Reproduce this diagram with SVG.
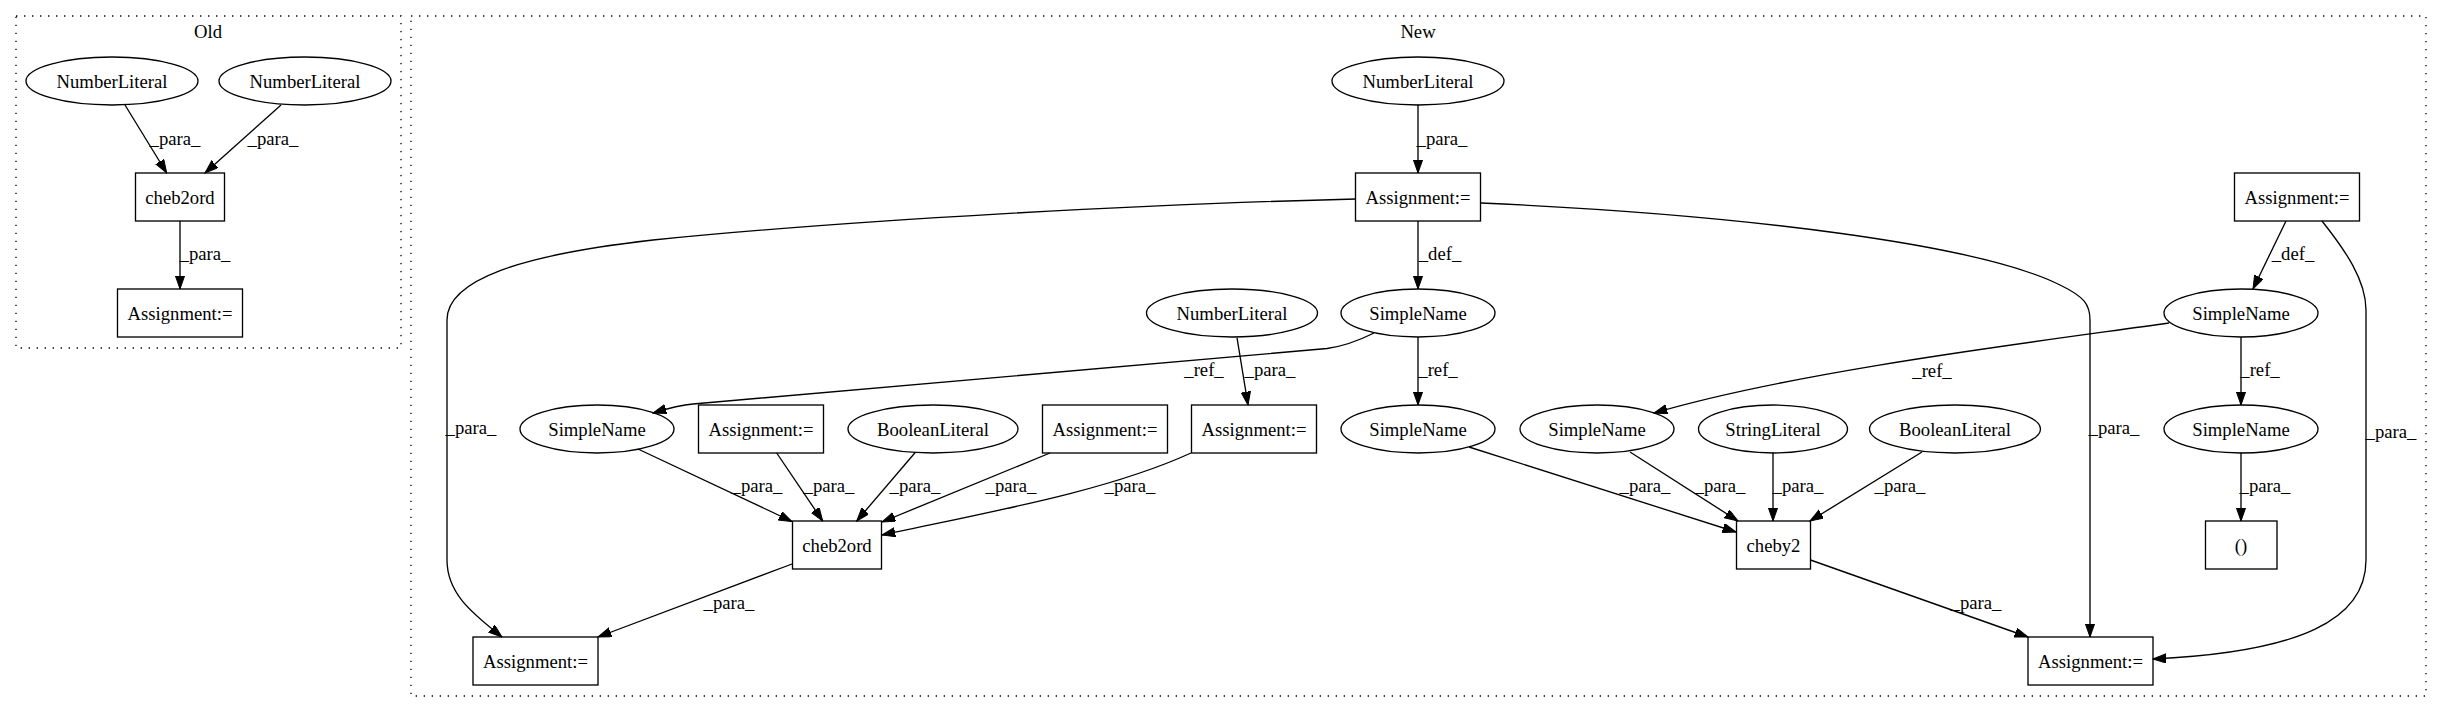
<svg xmlns="http://www.w3.org/2000/svg" width="2443" height="712" viewBox="0 0 2443 712">
<style>
text{font-family:"Liberation Serif","Times New Roman",serif;font-size:18.67px;fill:#000;text-anchor:middle}
.n ellipse,.n rect{fill:none;stroke:#000;stroke-width:1.33}
.e path{fill:none;stroke:#000;stroke-width:1.33;marker-end:url(#arr)}
.cl{fill:none;stroke:#000;stroke-width:1.33;stroke-dasharray:1.33,6.67}
</style>
<defs>
<marker id="arr" markerUnits="userSpaceOnUse" markerWidth="14" markerHeight="10" refX="13.3" refY="4.67" orient="auto">
<path d="M0,0 L13.3,4.67 L0,9.33 Z" fill="#000" stroke="#000" stroke-width="1"/>
</marker>
</defs>
<rect width="2443" height="712" fill="#fff"/>
<g id="clusters">
<rect class="cl" x="16" y="16" width="385" height="332"/>
<text x="208" y="37.5">Old</text>
<rect class="cl" x="411" y="16" width="2015" height="680"/>
<text x="1418" y="37.5">New</text>
</g>
<g id="connectors" class="e">
<path d="M125,105 L166.7,173"/>
<text x="175" y="145">_para_</text>
<path d="M281,105 L205,173"/>
<text x="273" y="145">_para_</text>
<path d="M180,221 L180,289"/>
<text x="205" y="260">_para_</text>
<path d="M1418,104.5 L1418,173"/>
<text x="1442" y="145">_para_</text>
<path d="M1418,221 L1418,289"/>
<text x="1440" y="260">_def_</text>
<path d="M1356,199 C1150,204 850,220 653,240 C520,255 447,280 447,320 L447,560 C447,595 475,615 502,637"/>
<text x="471" y="434">_para_</text>
<path d="M1481,203 C1750,215 1980,245 2060,285 C2085,297 2090,305 2090,320 L2090,637"/>
<text x="2114" y="434">_para_</text>
<path d="M2286,221 L2253,289"/>
<text x="2293" y="260">_def_</text>
<path d="M2322,221 C2345,250 2366,280 2366,310 L2366,560 C2366,620 2300,652 2153,659"/>
<text x="2391" y="438">_para_</text>
<path d="M1374,333 C1360,340 1345,346 1327,348.5 L693,404 C680,405 666,409 653,413"/>
<text x="1204" y="376">_ref_</text>
<path d="M1237,337.7 L1248,405"/>
<text x="1270" y="376">_para_</text>
<path d="M1418,337 L1418,405"/>
<text x="1438" y="376">_ref_</text>
<path d="M2169,323 C2050,340 1800,370 1654,413"/>
<text x="1932" y="377">_ref_</text>
<path d="M2241,337 L2241,405"/>
<text x="2260" y="376">_ref_</text>
<path d="M2241,452.5 L2241,521"/>
<text x="2265" y="492">_para_</text>
<path d="M638,449 L792,521.5"/>
<text x="757" y="492">_para_</text>
<path d="M776.7,453 L822.7,521"/>
<text x="829" y="492">_para_</text>
<path d="M915,452.7 L856.7,521"/>
<text x="915" y="492">_para_</text>
<path d="M1050,453 L882,522"/>
<text x="1011" y="492">_para_</text>
<path d="M1191,453 C1110,490 1000,510 882,535"/>
<text x="1130" y="492">_para_</text>
<path d="M792,564 L598,637"/>
<text x="729" y="609">_para_</text>
<path d="M1469,447 L1736,532"/>
<text x="1645" y="492">_para_</text>
<path d="M1630,452 L1738,521"/>
<text x="1720" y="492">_para_</text>
<path d="M1773,452.5 L1773,521"/>
<text x="1798" y="492">_para_</text>
<path d="M1922,452 L1810,521"/>
<text x="1900" y="492">_para_</text>
<path d="M1810.5,560 L2028,637"/>
<text x="1976" y="609">_para_</text>
</g>
<g id="old_nl1" class="n"><ellipse cx="112" cy="81" rx="86" ry="24"/><text x="112" y="87.5">NumberLiteral</text></g>
<g id="old_nl2" class="n"><ellipse cx="305" cy="81" rx="86" ry="24"/><text x="305" y="87.5">NumberLiteral</text></g>
<g id="old_cheb2ord" class="n"><rect x="135.5" y="173" width="89" height="48"/><text x="180" y="203.5">cheb2ord</text></g>
<g id="old_assign" class="n"><rect x="117.5" y="289" width="125" height="48"/><text x="180" y="319.5">Assignment:=</text></g>
<g id="nl_top" class="n"><ellipse cx="1418" cy="81" rx="86" ry="24"/><text x="1418" y="87.5">NumberLiteral</text></g>
<g id="asg_top" class="n"><rect x="1355.5" y="173" width="125" height="48"/><text x="1418" y="203.5">Assignment:=</text></g>
<g id="asg_right" class="n"><rect x="2234.5" y="173" width="125" height="48"/><text x="2297" y="203.5">Assignment:=</text></g>
<g id="nl_mid" class="n"><ellipse cx="1232" cy="313" rx="85.5" ry="24"/><text x="1232" y="319.5">NumberLiteral</text></g>
<g id="sn_def" class="n"><ellipse cx="1418" cy="313" rx="77" ry="24"/><text x="1418" y="319.5">SimpleName</text></g>
<g id="sn_right_def" class="n"><ellipse cx="2241" cy="313" rx="77" ry="24"/><text x="2241" y="319.5">SimpleName</text></g>
<g id="sn_a" class="n"><ellipse cx="597" cy="429" rx="77" ry="24"/><text x="597" y="435.5">SimpleName</text></g>
<g id="asg_a" class="n"><rect x="698.5" y="405" width="125" height="48"/><text x="761" y="435.5">Assignment:=</text></g>
<g id="bool_a" class="n"><ellipse cx="933" cy="429" rx="85" ry="24"/><text x="933" y="435.5">BooleanLiteral</text></g>
<g id="asg_b" class="n"><rect x="1042.5" y="405" width="125" height="48"/><text x="1105" y="435.5">Assignment:=</text></g>
<g id="asg_c" class="n"><rect x="1191.5" y="405" width="125" height="48"/><text x="1254" y="435.5">Assignment:=</text></g>
<g id="sn_b" class="n"><ellipse cx="1418" cy="429" rx="77" ry="24"/><text x="1418" y="435.5">SimpleName</text></g>
<g id="sn_c" class="n"><ellipse cx="1597" cy="429" rx="77" ry="24"/><text x="1597" y="435.5">SimpleName</text></g>
<g id="str" class="n"><ellipse cx="1773" cy="429" rx="74.5" ry="24"/><text x="1773" y="435.5">StringLiteral</text></g>
<g id="bool_b" class="n"><ellipse cx="1955" cy="429" rx="85.5" ry="24"/><text x="1955" y="435.5">BooleanLiteral</text></g>
<g id="sn_d" class="n"><ellipse cx="2241" cy="429" rx="77" ry="24"/><text x="2241" y="435.5">SimpleName</text></g>
<g id="cheb2ord" class="n"><rect x="792.5" y="521" width="89" height="48"/><text x="837" y="551.5">cheb2ord</text></g>
<g id="cheby2" class="n"><rect x="1736.5" y="521" width="74" height="48"/><text x="1773.5" y="551.5">cheby2</text></g>
<g id="paren" class="n"><rect x="2205.5" y="521" width="71.5" height="48"/><text x="2241" y="551.5">()</text></g>
<g id="asg_bl" class="n"><rect x="473" y="637" width="125" height="48"/><text x="535.5" y="667.5">Assignment:=</text></g>
<g id="asg_br" class="n"><rect x="2028" y="637" width="125" height="48"/><text x="2090.5" y="667.5">Assignment:=</text></g>
</svg>
